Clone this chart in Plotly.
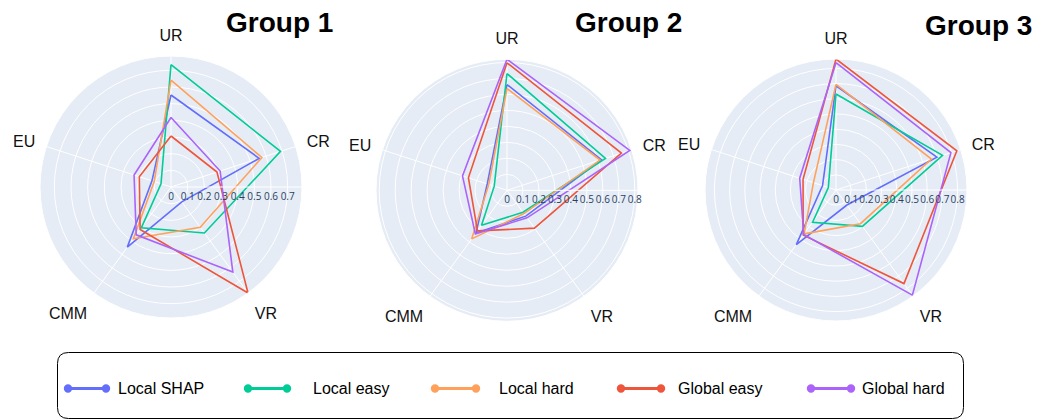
import plotly.graph_objects as go

categories = ["UR", "CR", "VR", "CMM", "EU"]
series_names = ["Local SHAP", "Local easy", "Local hard", "Global easy", "Global hard"]
series_colors = ["#636EFA", "#00CC96", "#FFA15A", "#EF553B", "#AB63FA"]
group_titles = ["Group 1", "Group 2", "Group 3"]

# values per group, per series, in category order UR, CR, VR, CMM, EU
group1 = {
    "Local SHAP":  [0.552, 0.556, 0.110, 0.446, 0.120],
    "Local easy":  [0.734, 0.691, 0.341, 0.303, 0.063],
    "Local hard":  [0.641, 0.573, 0.299, 0.384, 0.106],
    "Global easy": [0.306, 0.290, 0.786, 0.315, 0.200],
    "Global hard": [0.417, 0.310, 0.631, 0.355, 0.233],
}
group2 = {
    "Local SHAP":  [0.662, 0.621, 0.200, 0.330, 0.130],
    "Local easy":  [0.731, 0.648, 0.170, 0.271, 0.084],
    "Local hard":  [0.637, 0.612, 0.180, 0.376, 0.120],
    "Global easy": [0.798, 0.753, 0.293, 0.314, 0.254],
    "Global hard": [0.820, 0.808, 0.213, 0.337, 0.293],
}
group3 = {
    "Local SHAP":  [0.686, 0.698, 0.122, 0.444, 0.093],
    "Local easy":  [0.632, 0.737, 0.296, 0.262, 0.053],
    "Local hard":  [0.695, 0.660, 0.274, 0.357, 0.156],
    "Global easy": [0.862, 0.836, 0.761, 0.367, 0.228],
    "Global hard": [0.838, 0.795, 0.855, 0.362, 0.251],
}
groups = [group1, group2, group3]

W, H = 1037, 420
FONT = "Liberation Sans, Arial, Helvetica, sans-serif"

fig = go.Figure()

# polar layout (centers/radius in pixels)
polar_geo = [(171.0, 187.0), (507.0, 190.3), (836.0, 190.0)]
R = 131.0
title_pos = [(279, 22.5), (628.5, 22.0), (978, 25.0)]

for gi, grp in enumerate(groups):
    pname = "polar" if gi == 0 else f"polar{gi+1}"
    for name, color in zip(series_names, series_colors):
        vals = grp[name]
        fig.add_trace(go.Scatterpolar(
            r=vals + vals[:1],
            theta=categories + categories[:1],
            mode="lines",
            name=name,
            line=dict(color=color, width=1.6),
            subplot=pname,
            showlegend=False,
        ))
    cx, cy = polar_geo[gi]
    fig.layout[pname] = dict(
        domain=dict(x=[(cx - R) / W, (cx + R) / W],
                    y=[1 - (cy + R) / H, 1 - (cy - R) / H]),
        bgcolor="#E5ECF6",
        angularaxis=dict(direction="clockwise", rotation=90,
                         gridcolor="white", linecolor="white",
                         ticks="outside", ticklen=8, tickcolor="rgba(0,0,0,0)",
                         tickfont=dict(family=FONT, size=16, color="#111111")),
        radialaxis=dict(dtick=0.1, gridcolor="white", linecolor="white",
                        tickfont=dict(size=10, color="#2a3f5f"),
                        tickangle=0, ticks=""),
    )
    tx, ty = title_pos[gi]
    fig.add_annotation(x=tx / W, y=1 - ty / H, xref="paper", yref="paper",
                       text=f"<b>{group_titles[gi]}</b>", showarrow=False,
                       font=dict(family=FONT, size=28, color="black"),
                       xanchor="center", yanchor="middle")

# custom legend box with rounded corners
x0, x1, y0, y1, rad = 57.5, 963.5, 352.5, 418.5, 11


def px(x):
    return x / W


def py(y):
    return 1 - y / H


path = (f"M {px(x0+rad)},{py(y0)} L {px(x1-rad)},{py(y0)} "
        f"Q {px(x1)},{py(y0)} {px(x1)},{py(y0+rad)} L {px(x1)},{py(y1-rad)} "
        f"Q {px(x1)},{py(y1)} {px(x1-rad)},{py(y1)} L {px(x0+rad)},{py(y1)} "
        f"Q {px(x0)},{py(y1)} {px(x0)},{py(y1-rad)} L {px(x0)},{py(y0+rad)} "
        f"Q {px(x0)},{py(y0)} {px(x0+rad)},{py(y0)} Z")
fig.add_shape(type="path", path=path, xref="paper", yref="paper",
              line=dict(color="black", width=1))

leg_items = [(68, 106, 116), (248, 287, 311), (435, 476, 497), (621, 661, 676), (811, 851, 860)]
ly = 388.5
mr = 4.2
for (lx0, lx1, tx), name, color in zip(leg_items, series_names, series_colors):
    fig.add_shape(type="line", xref="paper", yref="paper",
                  x0=px(lx0), x1=px(lx1), y0=py(ly), y1=py(ly),
                  line=dict(color=color, width=3))
    for cxm in (lx0, lx1):
        fig.add_shape(type="circle", xref="paper", yref="paper",
                      x0=px(cxm - mr), x1=px(cxm + mr), y0=py(ly + mr), y1=py(ly - mr),
                      fillcolor=color, line=dict(color=color, width=0))
    fig.add_annotation(x=px(tx), y=py(ly), xref="paper", yref="paper",
                       text=name, showarrow=False, xanchor="left", yanchor="middle",
                       font=dict(family=FONT, size=16, color="black"))

fig.update_layout(
    width=W, height=H,
    margin=dict(l=0, r=0, t=0, b=0),
    paper_bgcolor="white",
    showlegend=False,
)

fig.write_html("out.html", config={"displayModeBar": False},
               post_script="document.body.style.margin='0';document.body.style.overflow='hidden';")
